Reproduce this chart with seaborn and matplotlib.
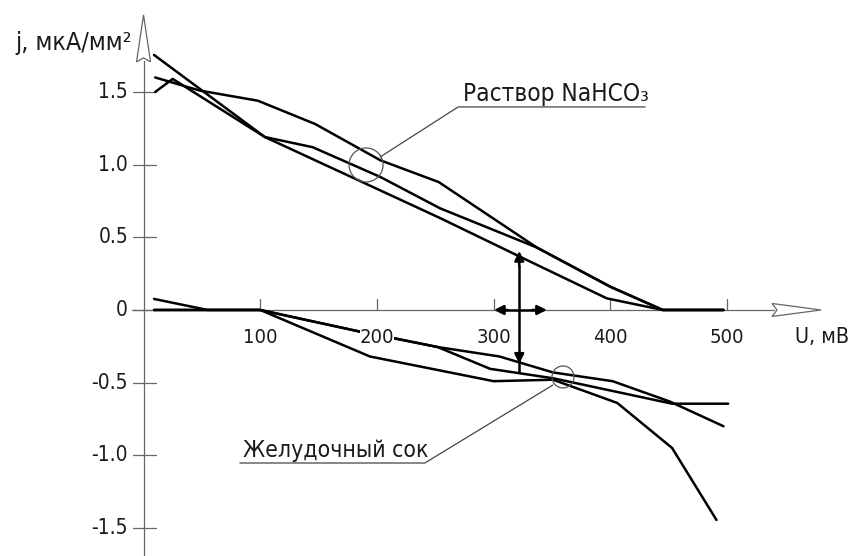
import matplotlib.pyplot as plt
import matplotlib.patches as mpatches
import numpy as np
import pandas as pd
import seaborn as sns

# curves: U in mV, j in uA/mm2
# solution NaHCO3 (three runs)
nahco3_a_u = [9, 104, 254, 323, 397, 445, 497]
nahco3_a_j = [1.755, 1.19, 0.633, 0.365, 0.08, 0.0, 0.0]
nahco3_b_u = [10, 25, 104, 145, 203, 254, 337, 400, 445, 497]
nahco3_b_j = [1.5, 1.59, 1.19, 1.12, 0.915, 0.70, 0.43, 0.16, 0.0, 0.0]
nahco3_c_u = [10, 48, 98, 147, 203, 253, 337, 400, 445, 497]
nahco3_c_j = [1.6, 1.51, 1.44, 1.28, 1.03, 0.88, 0.43, 0.16, 0.0, 0.0]

# gastric juice (three runs)
juice_f_u = [9, 100, 194, 300, 351, 406, 453, 491]
juice_f_j = [0.0, 0.0, -0.32, -0.49, -0.48, -0.64, -0.95, -1.445]
juice_g_u = [9, 100, 186, 218, 252, 297, 351, 453, 501]
juice_g_j = [0.0, 0.0, -0.15, -0.2, -0.255, -0.405, -0.47, -0.645, -0.645]
juice_h_u = [9, 55, 100, 186, 218, 252, 305, 351, 402, 451, 497]
juice_h_j = [0.076, 0.0, 0.0, -0.15, -0.2, -0.255, -0.32, -0.43, -0.49, -0.63, -0.80]

x_ticks = [100, 200, 300, 400, 500]
x_tick_labels = ['100', '200', '300', '400', '500']
y_ticks = [1.5, 1.0, 0.5, 0, -0.5, -1.0, -1.5]
y_tick_labels = ['1.5', '1.0', '0.5', '0', '-0.5', '-1.0', '-1.5']

curves = {
    'a': (nahco3_a_u, nahco3_a_j), 'b': (nahco3_b_u, nahco3_b_j),
    'c': (nahco3_c_u, nahco3_c_j), 'f': (juice_f_u, juice_f_j),
    'g': (juice_g_u, juice_g_j), 'h': (juice_h_u, juice_h_j),
}
rows = []
for name, (us, js) in curves.items():
    for i, (u, j) in enumerate(zip(us, js)):
        rows.append({'curve': name, 'order': i, 'U': u, 'j': j})
df = pd.DataFrame(rows)

sns.set_style('white')
plt.rcParams['font.family'] = ['DejaVu Sans']
plt.rcParams['font.stretch'] = 'condensed'

fig = plt.figure(figsize=(8.53, 5.56), dpi=100)
ax = fig.add_axes([0, 0, 1, 1])

axis_col = '#666666'
txt_col = '#1a1a1a'
# pixel sizes in data units
px_x = 100 / 116.7
px_y = 1 / 145.3

# axes lines
ax.plot([-10, 540], [0, 0], color=axis_col, lw=0.9, zorder=1)
ax.plot([0, 0], [-1.72, 1.71], color=axis_col, lw=0.9, zorder=1)
# open arrowheads
yarr = [(-7 * px_x, 1.707), (0, 2.03), (7 * px_x, 1.707), (0, 1.707 + 4 * px_y)]
ax.add_patch(mpatches.Polygon(yarr, closed=True, fc='white', ec=axis_col, lw=0.9, zorder=2))
xarr = [(538.6, 6.5 * px_y), (580.6, 0), (538.6, -6.5 * px_y), (538.6 + 5 * px_x, 0)]
ax.add_patch(mpatches.Polygon(xarr, closed=True, fc='white', ec=axis_col, lw=0.9, zorder=2))

# ticks
for t, lab in zip(y_ticks, y_tick_labels):
    ax.plot([-9, 10.7], [t, t], color=axis_col, lw=0.9, zorder=1)
    ax.text(-13.3, t, lab, ha='right', va='center', fontsize=15, color=txt_col)
for t, lab in zip(x_ticks, x_tick_labels):
    ax.plot([t, t], [0, 11 * px_y], color=axis_col, lw=0.9, zorder=1)
    ax.text(t, -0.227, lab, ha='center', va='baseline', fontsize=14.5, color=txt_col,
            bbox=dict(fc='white', ec='none', pad=0), zorder=4)

# curves
sns.lineplot(data=df, x='U', y='j', units='curve', estimator=None, sort=False,
             color='black', lw=1.8, ax=ax, zorder=3, legend=False)
ax.set_xlim(-123, 608)
ax.set_ylim(-1.693, 2.133)
ax.axis('off')

# double arrows showing the shift
arrow_kw = dict(arrowstyle='-|>', color='black', lw=1.8, mutation_scale=14, shrinkA=0, shrinkB=0)
ax.plot([322, 322], [-0.43, 0.30], color='black', lw=1.8, zorder=3)
ax.annotate('', xy=(322, 0.406), xytext=(322, 0.3), arrowprops=arrow_kw, zorder=3)
ax.annotate('', xy=(322, -0.37), xytext=(322, -0.3), arrowprops=arrow_kw, zorder=3)
ax.plot([310, 335], [0, 0], color='black', lw=1.8, zorder=3)
ax.annotate('', xy=(300.3, 0), xytext=(312, 0), arrowprops=arrow_kw, zorder=3)
ax.annotate('', xy=(345.7, 0), xytext=(333, 0), arrowprops=arrow_kw, zorder=3)

# callout circles and leaders
for cx, cy, r in [(190.7, 0.998, 17), (359.5, -0.461, 11)]:
    ax.add_patch(mpatches.Ellipse((cx, cy), 2 * r * px_x, 2 * r * px_y, fill=False,
                                  ec='#555555', lw=0.9, zorder=4))
ax.plot([202.8, 269.6, 429.9], [1.053, 1.397, 1.397], color='#444444', lw=0.9)
ax.plot([350.9, 241.1, 82.6], [-0.516, -1.053, -1.053], color='#444444', lw=0.9)
ax.text(274, 1.438, 'Раствор NaHCO₃', fontsize=17.5, va='baseline', ha='left', color=txt_col)
ax.text(85, -1.015, 'Желудочный сок', fontsize=16.5, va='baseline', ha='left', color=txt_col)

# axis titles
ax.text(-110, 1.789, 'j, мкА/мм²', fontsize=18, va='baseline', ha='left', color=txt_col)
ax.text(558, -0.227, 'U, мВ', fontsize=15.5, va='baseline', ha='left', color=txt_col)

plt.savefig('out.png', dpi=100)
